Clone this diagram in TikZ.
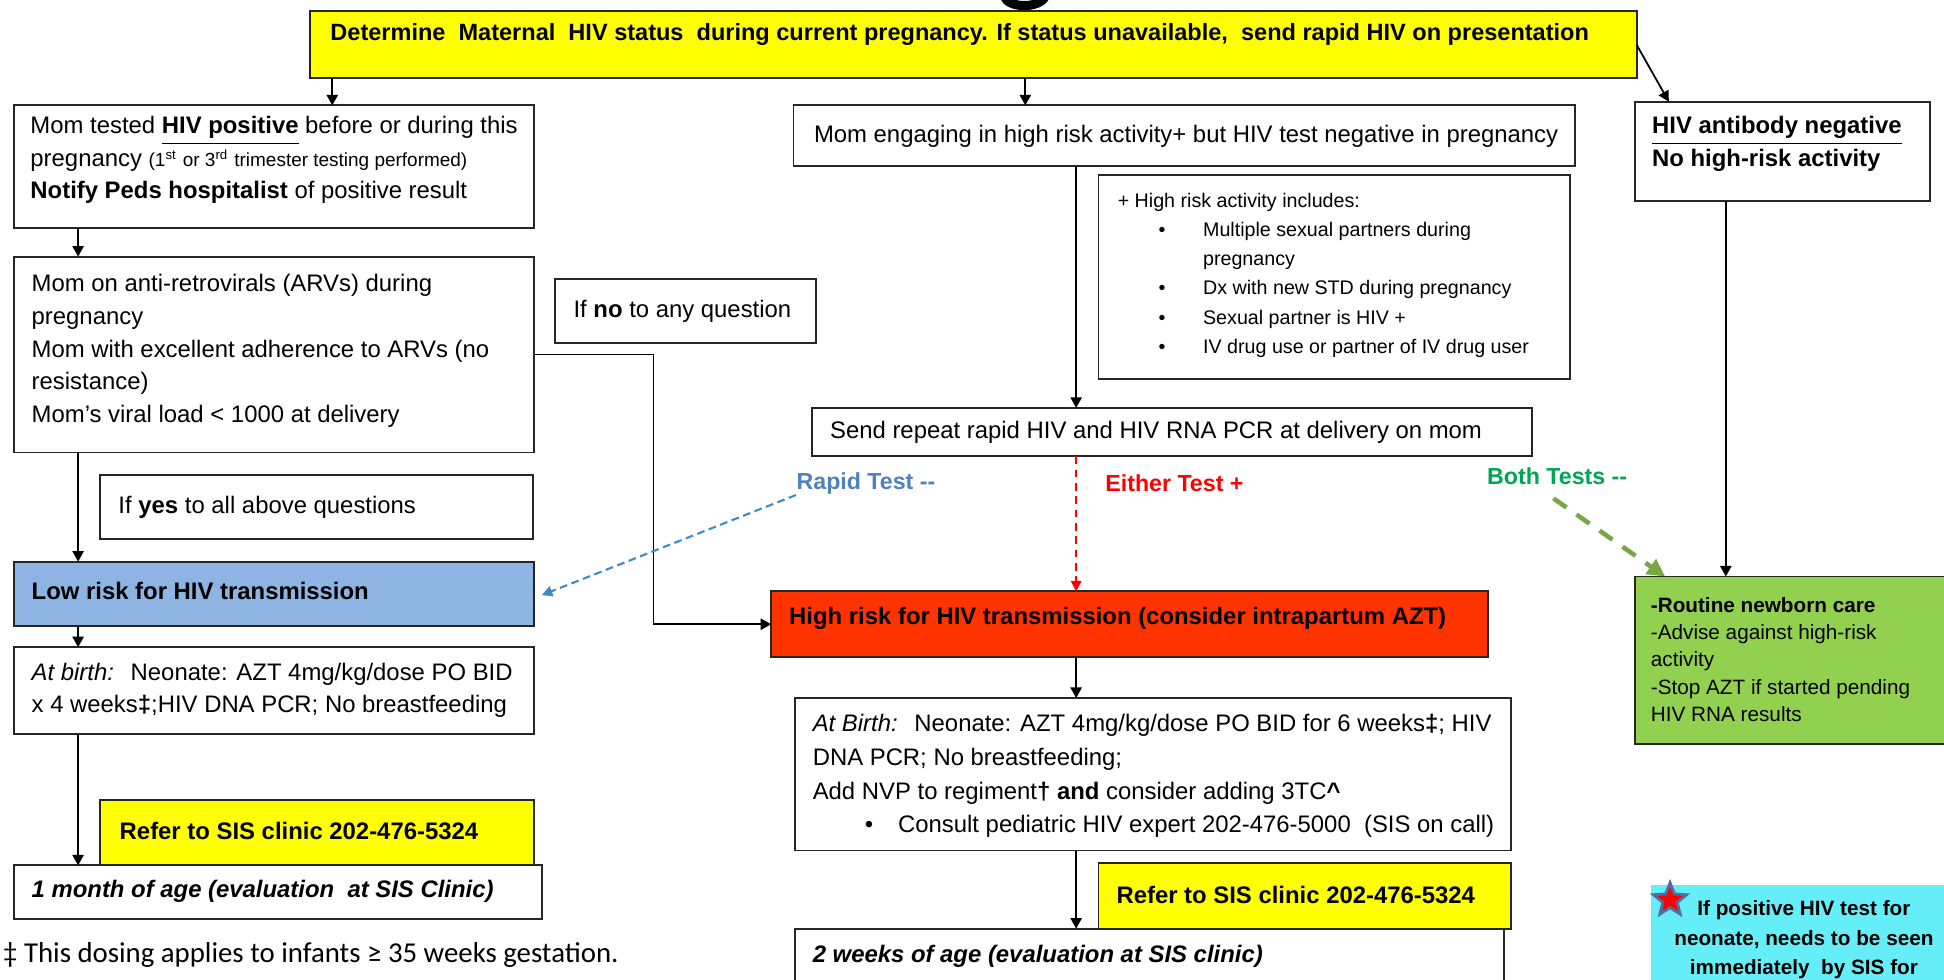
\documentclass[tikz,border=0pt]{standalone}
\usepackage{fontspec}
\setmainfont{Liberation Sans}
\newfontfamily\calfont{Carlito}
\usetikzlibrary{arrows.meta,shapes.geometric}

\definecolor{hivyellow}{HTML}{FFFF00}
\definecolor{lowblue}{HTML}{8DB4E2}
\definecolor{highred}{HTML}{FF3300}
\definecolor{caregreen}{HTML}{92D050}
\definecolor{alertcyan}{RGB}{102,238,248}
\definecolor{rapidblue}{HTML}{4F81BD}
\definecolor{rapidline}{RGB}{60,140,200}
\definecolor{eitherred}{HTML}{FF0000}
\definecolor{bothgreen}{RGB}{0,166,81}
\definecolor{bothline}{RGB}{119,168,68}
\definecolor{boxline}{HTML}{262626}
\definecolor{starblue}{RGB}{80,110,160}

% box from its top-left and bottom-right corners (picture units)
\newcommand\rbox[6][]{\node[box,#1,minimum width={(#5-#3)*0.0124cm},minimum height={(#6-#4)*0.0124cm}] (#2) at (#3,#4) {};}

\begin{document}
\begin{tikzpicture}[x=0.0124cm, y=-0.0124cm,
  box/.style={draw=boxline, line width=0.55pt, inner sep=0pt, outer sep=0pt, anchor=north west, fill=white},
  txt/.style={anchor=west, inner sep=0pt, align=left, font=\fontsize{6.8}{9.35}\selectfont},
  lbl/.style={anchor=west, inner sep=0pt, font=\bfseries\fontsize{6.6}{8}\selectfont},
  arr/.style={draw=black, line width=0.5pt, -{Triangle[length=3pt,width=3.2pt]}},
]
\useasboundingbox (0,0) rectangle (1568,790);
\clip (0,0) rectangle (1568,790);

% lower bowl of the large heading letter cut by the top edge
\draw[line width=2.6pt, line cap=round] (810,-3) .. controls (813,7) and (839,7) .. (843,-3);

% ---------- boxes ----------
\rbox[fill=hivyellow]{ty}{250}{9}{1320}{63}
\rbox{mt}{11}{85}{431}{184}
\rbox{arv}{11}{207}{431}{365}
\rbox{ifno}{448}{225}{658}{277}
\rbox{ifyes}{81}{383}{430}{435}
\rbox[fill=lowblue]{lr}{11}{453}{431}{505}
\rbox{ab1}{11}{522}{431}{592}
\rbox[fill=hivyellow]{rf1}{81}{645}{431}{698}
\rbox{m1}{11}{698}{437}{741}

\rbox{me}{640}{85}{1270}{134}
\rbox{hra}{886}{141}{1266}{306}
\rbox{sr}{655}{329}{1236}{368}
\rbox[fill=highred]{hr}{622}{477}{1200}{530}
\rbox{ab2}{641}{563}{1219}{686}
\rbox[fill=hivyellow]{rf2}{886}{696}{1219}{749}
\rbox{w2}{641}{749}{1213}{830}

\rbox{ab}{1319}{82}{1557}{162}
\rbox[fill=caregreen]{gb}{1319}{465}{1600}{600}
\rbox[fill=alertcyan,draw=none]{cy}{1332}{714}{1600}{830}

% ---------- connector columns ----------
\coordinate (xA) at (268,0);
\coordinate (xB) at (827,0);
\coordinate (xL) at (63,0);
\coordinate (xM) at (868,0);
\coordinate (xR) at (1392,0);
\coordinate (dg) at (1346,0);
\coordinate (noA) at (0,286);
\coordinate (noB) at (527,0);
\coordinate (gs) at (1253,402);
\coordinate (gt) at (1343,0);

\draw[arr] (ty.south -| xA) -- (mt.north -| xA);
\draw[arr] (ty.south -| xB) -- (me.north -| xB);
\draw[arr] (ty.east) -- (dg |- ab.north);
\draw[arr] (mt.south -| xL) -- (arv.north -| xL);
\draw[arr] (arv.south -| xL) -- (lr.north -| xL);
\draw[arr] (lr.south -| xL) -- (ab1.north -| xL);
\draw[arr] (ab1.south -| xL) -- (m1.north -| xL);
\draw[arr] (arv.east |- noA) -| (noB |- hr.west) -- (hr.west);
\draw[arr] (me.south -| xM) -- (sr.north -| xM);
\draw[arr] (hr.south -| xM) -- (ab2.north -| xM);
\draw[arr] (ab2.south -| xM) -- (w2.north -| xM);
\draw[arr] (ab.south -| xR) -- (gb.north -| xR);

% ---------- test result labels and dashed branches ----------
\node[lbl, text=rapidblue] (rapid) at (642,390) {Rapid Test -{}-};
\node[lbl, text=eitherred] (either) at (891,390) {Either Test +};
\node[lbl, text=bothgreen] (both) at (1199,384) {Both Tests -{}-};

\draw[rapidline, line width=0.6pt, dash pattern=on 2.2pt off 1.3pt, -{Triangle[length=3pt,width=3pt]}]
  (rapid.south west) -- ([xshift=6*0.0124cm,yshift=-1*0.0124cm]lr.east);
\draw[eitherred, line width=0.5pt, dash pattern=on 2.2pt off 1.6pt, -{Triangle[length=3pt,width=3pt]}]
  (sr.south -| xM) -- (hr.north -| xM);
\draw[bothline, line width=1.3pt, dash pattern=on 4.5pt off 3.5pt, -{Triangle[length=5pt,width=5pt]}]
  (gs) -- (gt |- gb.north);

% ---------- texts ----------
\node[txt, font=\bfseries\fontsize{6.7}{8}\selectfont] (tyt) at (266,28)
  {Determine\ \ Maternal\ \ HIV status\ \ during current pregnancy. If status unavailable,\ \ send rapid HIV on presentation};

\node[txt, font=\fontsize{6.8}{9.3}\selectfont] (mtt) at (24,129)
  {Mom tested \underline{\textbf{HIV positive}} before or during this\\
   pregnancy {\fontsize{5.4}{9.3}\selectfont(1\textsuperscript{st} or 3\textsuperscript{rd} trimester testing performed)}\\
   \textbf{Notify Peds hospitalist} of positive result};

\node[txt] (arvt) at (25,283)
  {Mom on anti-retrovirals (ARVs) during\\
   pregnancy\\
   Mom with excellent adherence to ARVs (no\\
   resistance)\\
   Mom’s viral load < 1000 at delivery};

\node[txt] (ifnot) at (462,251) {If \textbf{no} to any question};
\node[txt] (ifyest) at (95,409) {If \textbf{yes} to all above questions};
\node[txt, font=\bfseries\fontsize{6.8}{8}\selectfont] (lrt) at (25,477) {Low risk for HIV transmission};
\node[txt, font=\fontsize{6.8}{9.2}\selectfont] (ab1t) at (25,557)
  {\textit{At birth:}\hspace{0.7em}Neonate: AZT 4mg/kg/dose PO BID\\
   x 4 weeks\textbf{‡};HIV DNA PCR; No breastfeeding};
\node[txt, font=\bfseries\fontsize{6.8}{8}\selectfont] (rf1t) at (96,670) {Refer to SIS clinic 202-476-5324};
\node[txt, font=\bfseries\itshape\fontsize{6.8}{8}\selectfont] (m1t) at (25,719) {1 month of age (evaluation\ \ at SIS Clinic)};
\node[anchor=west, inner sep=0pt, font=\calfont\fontsize{8.2}{9}\selectfont] (foot) at (2,770)
  {‡ This dosing applies to infants ≥ 35 weeks gestation.};

\node[txt] (met) at (656,110) {Mom engaging in high risk activity+ but HIV test negative in pregnancy};
\node[txt, font=\fontsize{5.6}{8.3}\selectfont] (hrat) at (901,222)
  {+ High risk activity includes:\\
   \hspace*{11.6pt}\makebox[12.7pt][l]{\textbullet}Multiple sexual partners during\\
   \hspace*{24.3pt}pregnancy\\
   \hspace*{11.6pt}\makebox[12.7pt][l]{\textbullet}Dx with new STD during pregnancy\\
   \hspace*{11.6pt}\makebox[12.7pt][l]{\textbullet}Sexual partner is HIV +\\
   \hspace*{11.6pt}\makebox[12.7pt][l]{\textbullet}IV drug use or partner of IV drug user};
\node[txt] (srt) at (669,349) {Send repeat rapid HIV and HIV RNA PCR at delivery on mom};
\node[txt, font=\bfseries\fontsize{6.8}{8}\selectfont] (hrt) at (636,499) {High risk for HIV transmission (consider intrapartum AZT)};
\node[txt, font=\fontsize{6.8}{9.6}\selectfont] (ab2t) at (655,626)
  {\textit{At Birth:}\hspace{0.7em}Neonate: AZT 4mg/kg/dose PO BID for 6 weeks\textbf{‡}; HIV\\
   DNA PCR; No breastfeeding;\\
   Add NVP to regiment\textbf{†} \textbf{and} consider adding 3TC\textbf{\textasciicircum}\\
   \hspace*{14.8pt}\makebox[9.5pt][l]{\textbullet}Consult pediatric HIV expert 202-476-5000\ \ (SIS on call)};
\node[txt, font=\bfseries\fontsize{6.8}{8}\selectfont] (rf2t) at (900,722) {Refer to SIS clinic 202-476-5324};
\node[txt, font=\bfseries\itshape\fontsize{6.8}{8}\selectfont] (w2t) at (655,771) {2 weeks of age (evaluation at SIS clinic)};

\node[txt, font=\bfseries\fontsize{6.8}{8.1}\selectfont] (abt) at (1332,116)
  {\underline{HIV antibody negative}\\No high-risk activity};
\node[txt, font=\fontsize{5.9}{7.8}\selectfont] (gbt) at (1331,532)
  {\textbf{-Routine newborn care}\\
   -Advise against high-risk\\
   activity\\
   -Stop AZT if started pending\\
   HIV RNA results};

\node[star, star points=5, star point ratio=2.3, fill=red, draw=starblue, line width=0.8pt,
      minimum size=28*0.0124cm, inner sep=0pt] (star) at (1347,726) {};
\node[anchor=center, inner sep=0pt, align=center, font=\bfseries\fontsize{5.9}{8.5}\selectfont] (cyt) at (1455,758)
  {If positive HIV test for\\neonate, needs to be seen\\immediately\ \ by SIS for};
\end{tikzpicture}
\end{document}
